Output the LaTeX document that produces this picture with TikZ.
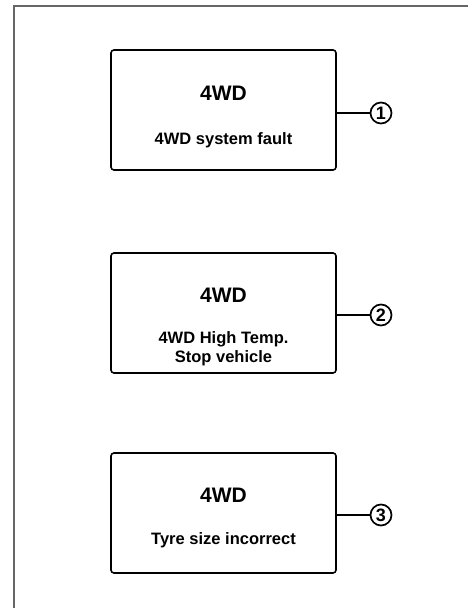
\documentclass[tikz,border=0pt]{standalone}
\usepackage{fontspec}
\setmainfont{Liberation Sans}
\begin{document}
\begin{tikzpicture}[x=1pt, y=1pt,
  panel/.style={draw, line width=1.6pt, rounded corners=3pt, minimum width=225pt, minimum height=120pt, inner sep=0pt},
  title/.style={font=\fontsize{21}{23}\selectfont\bfseries},
  msg/.style={align=center, font=\fontsize{16.5}{19}\selectfont\bfseries},
  num/.style={draw, circle, line width=1.7pt, minimum size=21pt, inner sep=0pt, font=\fontsize{18}{18}\selectfont\bfseries}]
\useasboundingbox (0,0) rectangle (468,608);
\draw[line width=2pt, black!60] (14,0) -- (14,602) -- (468,602);
\node[panel] (p1) at (223.5,498) {};
\node[title] (t1) at ([yshift=17pt]p1.center) {4WD};
\node[msg] (m1) at ([yshift=-30pt]p1.center) {4WD system fault};
\node[num] (n1) at (381,495) {1};
\draw[line width=1.5pt] (p1.east |- n1) -- (n1);
\node[panel] (p2) at (223.5,295) {};
\node[title] (t2) at ([yshift=18pt]p2.center) {4WD};
\node[msg] (m2) at ([yshift=-36pt]p2.center) {4WD High Temp.\\ Stop vehicle};
\node[num] (n2) at (381,293) {2};
\draw[line width=1.5pt] (p2.east |- n2) -- (n2);
\node[panel] (p3) at (223.5,95) {};
\node[title] (t3) at ([yshift=18pt]p3.center) {4WD};
\node[msg] (m3) at ([yshift=-27pt]p3.center) {Tyre size incorrect};
\node[num] (n3) at (381,93) {3};
\draw[line width=1.5pt] (p3.east |- n3) -- (n3);
\end{tikzpicture}
\end{document}
